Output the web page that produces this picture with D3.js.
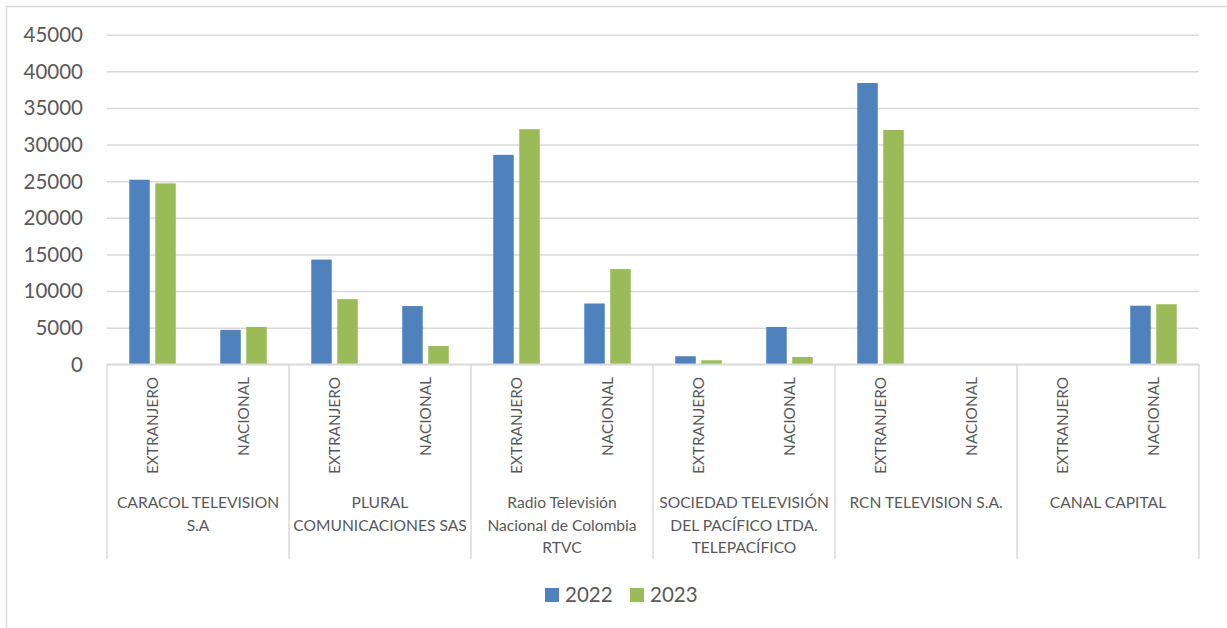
<!DOCTYPE html>
<html>
<head>
<meta charset="utf-8">
<script src="https://cdn.jsdelivr.net/npm/d3@7"></script>
<style>
  body { margin: 0; background: #fff; }
  text { font-family: Lato, "Noto Sans", sans-serif; fill: #595959; }
</style>
</head>
<body>
<div id="chart"></div>
<script>
// data
var groups = ["CARACOL TELEVISION S.A", "PLURAL COMUNICACIONES SAS", "Radio Televisión Nacional de Colombia RTVC",
    "SOCIEDAD TELEVISIÓN DEL PACÍFICO LTDA. TELEPACÍFICO", "RCN TELEVISION S.A.", "CANAL CAPITAL"];
var groupLines = [
    ["CARACOL TELEVISION", "S.A"],
    ["PLURAL", "COMUNICACIONES SAS"],
    ["Radio Televisión", "Nacional de Colombia", "RTVC"],
    ["SOCIEDAD TELEVISIÓN", "DEL PACÍFICO LTDA.", "TELEPACÍFICO"],
    ["RCN TELEVISION S.A."],
    ["CANAL CAPITAL"]
];
var subCats = ["EXTRANJERO", "NACIONAL"];
var years = ["2022", "2023"];
// one value per group/subcategory, in order
var values2022 = [25200, 4700, 14300, 7950, 28600, 8300, 1100, 5100, 38400, 0, 0, 8000];
var values2023 = [24700, 5100, 8900, 2500, 32100, 13000, 550, 1000, 32000, 0, 0, 8200];
var yTicks = [0, 5000, 10000, 15000, 20000, 25000, 30000, 35000, 40000, 45000];
var colors = { "2022": "#4f81bd", "2023": "#9bbb59" };

var W = 1227, H = 628;
var margin = { top: 34.7, left: 107, right: 28 },
    width = W - margin.left - margin.right,
    height = 364.3 - margin.top;

var svg = d3.select("#chart").append("svg")
    .attr("width", W)
    .attr("height", H);

// outer chart border (only left/top show in frame)
svg.append("rect")
    .attr("x", 6.5).attr("y", 6.5)
    .attr("width", 1400).attr("height", 800)
    .attr("fill", "none")
    .attr("stroke", "#d9d9d9")
    .attr("stroke-width", 1.5);

var g = svg.append("g")
    .attr("transform", "translate(" + margin.left + "," + margin.top + ")");

var y = d3.scaleLinear().domain([0, 45000]).range([height, 0]);

var x0 = d3.scaleBand().domain(groups).range([0, width]);
var x1 = d3.scaleBand().domain(subCats).range([0, x0.bandwidth()]);
var half = 23.25;
var x2 = d3.scaleBand().domain(years)
    .range([x1.bandwidth() / 2 - half, x1.bandwidth() / 2 + half])
    .paddingInner(0.2115);

// gridlines
var yAxis = g.append("g")
    .call(d3.axisLeft(y).tickValues(yTicks).tickSize(-width).tickFormat(""));
yAxis.select(".domain").remove();
yAxis.selectAll("line")
    .attr("stroke", "#d9d9d9")
    .attr("stroke-width", 1.5);

// y tick labels
g.selectAll(".ylab").data(yTicks)
    .enter().append("text")
    .attr("class", "ylab")
    .attr("x", -24)
    .attr("y", d => y(d))
    .attr("dy", "0.36em")
    .attr("text-anchor", "end")
    .style("font-size", "20.5px")
    .text(d => d);

// rows of bars
var rows = [];
groups.forEach(function (grp, gi) {
    subCats.forEach(function (sc, si) {
        var idx = gi * subCats.length + si;
        rows.push({ group: grp, sub: sc, year: "2022", value: values2022[idx] });
        rows.push({ group: grp, sub: sc, year: "2023", value: values2023[idx] });
    });
});

g.selectAll(".bar").data(rows)
    .enter().append("rect")
    .attr("class", "bar")
    .attr("x", d => x0(d.group) + x1(d.sub) + x2(d.year))
    .attr("y", d => y(d.value))
    .attr("width", x2.bandwidth())
    .attr("height", d => height - y(d.value))
    .attr("fill", d => colors[d.year]);

// category axis line and group separators
g.append("line")
    .attr("x1", 0).attr("x2", width)
    .attr("y1", height).attr("y2", height)
    .attr("stroke", "#d9d9d9")
    .attr("stroke-width", 1.5);

var seps = groups.map(d => x0(d)).concat([width]);
g.selectAll(".sep").data(seps)
    .enter().append("line")
    .attr("class", "sep")
    .attr("x1", d => d).attr("x2", d => d)
    .attr("y1", height).attr("y2", 559 - margin.top)
    .attr("stroke", "#d9d9d9")
    .attr("stroke-width", 1.5);

// rotated subcategory labels
groups.forEach(function (grp) {
    g.selectAll(null).data(subCats)
        .enter().append("text")
        .attr("transform", d => "translate(" + (x0(grp) + x1(d) + x1.bandwidth() / 2) + "," + (377 - margin.top) + ") rotate(-90)")
        .attr("dy", "0.36em")
        .attr("text-anchor", "end")
        .style("font-size", "15.4px")
        .text(d => d);
});

// group labels
groups.forEach(function (grp, gi) {
    var t = g.append("text")
        .attr("text-anchor", "middle")
        .attr("x", x0(grp) + x0.bandwidth() / 2)
        .attr("y", 508 - margin.top)
        .style("font-size", "15.6px");
    groupLines[gi].forEach(function (ln, li) {
        t.append("tspan")
            .attr("x", x0(grp) + x0.bandwidth() / 2)
            .attr("dy", li === 0 ? 0 : 22.7)
            .text(ln);
    });
});

// legend
var legend = svg.append("g").attr("transform", "translate(545,588)");
var li = legend.selectAll(".leg").data(years)
    .enter().append("g")
    .attr("transform", (d, i) => "translate(" + (i * 85) + ",0)");
li.append("rect")
    .attr("width", 14).attr("height", 14)
    .attr("fill", d => colors[d]);
li.append("text")
    .attr("x", 20)
    .attr("y", 14)
    .style("font-size", "20.5px")
    .text(d => d);
</script>
</body>
</html>
